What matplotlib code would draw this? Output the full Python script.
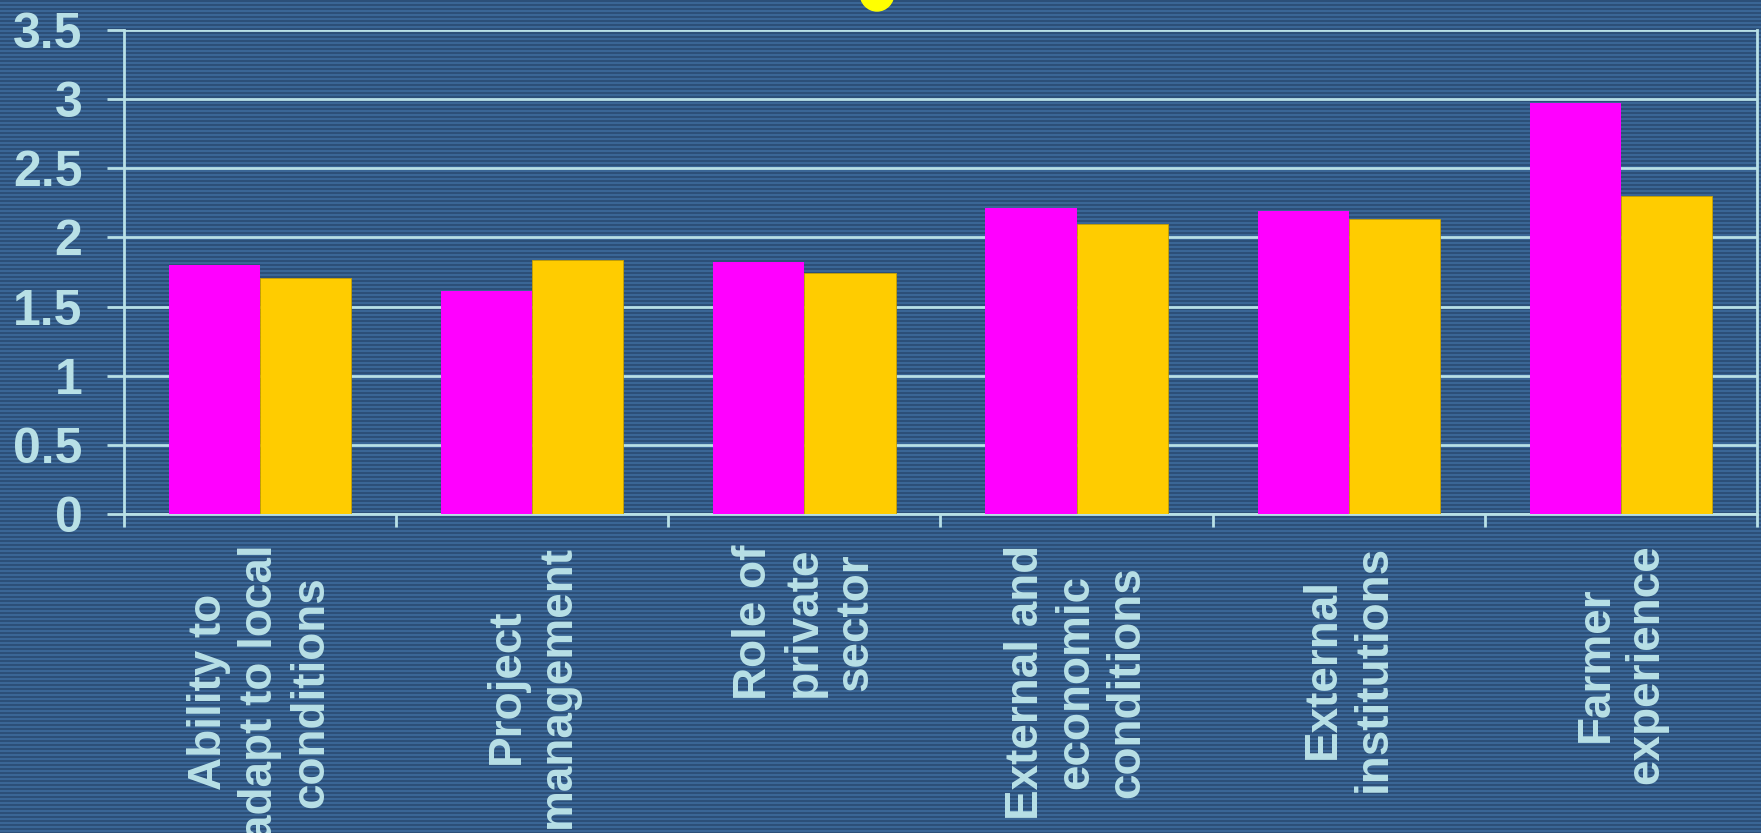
import numpy as np
import matplotlib.pyplot as plt
from matplotlib.patches import Ellipse

categories = [
    "Ability to\nadapt to local\nconditions",
    "Project\nmanagement",
    "Role of\nprivate\nsector",
    "External and\neconomic\nconditions",
    "External\ninstitutions",
    "Farmer\nexperience",
]
series_a = [1.80, 1.61, 1.82, 2.21, 2.19, 2.97]  # magenta
series_b = [1.71, 1.84, 1.74, 2.10, 2.13, 2.30]  # gold
y_ticks = [0, 0.5, 1, 1.5, 2, 2.5, 3, 3.5]
y_labels = ["0", "0.5", "1", "1.5", "2", "2.5", "3", "3.5"]

W, H = 1761, 833
fg = "#b8e0e6"
plt.rcParams['font.family'] = ['Liberation Sans', 'DejaVu Sans']
plt.rcParams['font.weight'] = 'bold'

fig = plt.figure(figsize=(W / 100, H / 100), dpi=100)

# striped slide background
rows = np.arange(H) % 4 < 2
bg = np.zeros((H, 1, 3))
bg[rows] = np.array([0x2c, 0x4f, 0x78]) / 255
bg[~rows] = np.array([0x3a, 0x66, 0x96]) / 255
bg_ax = fig.add_axes([0, 0, 1, 1])
bg_ax.imshow(bg, aspect='auto', interpolation='nearest', extent=[0, 1, 0, 1])
bg_ax.axis('off')
# bit of a yellow title glyph cut off at the top
bg_ax.add_patch(Ellipse((877 / W, 1 + 7 / H), 34 / W, 36 / H, color="#ffff00"))
bg_ax.set_xlim(0, 1)
bg_ax.set_ylim(0, 1)

ax = fig.add_axes([124 / W, 1 - 514 / H, (1757 - 124) / W, (514 - 30) / H])
ax.patch.set_alpha(0)

x = np.arange(len(categories))
w = 0.335
ax.bar(x - w / 2, series_a, w, color="#ff00ff", zorder=3)
ax.bar(x + w / 2, series_b, w, color="#ffcc00", edgecolor="#c8a000", linewidth=0.6, zorder=3)

ax.set_xlim(-0.5, len(categories) - 0.5)
ax.set_ylim(0, 3.5)
ax.set_yticks(y_ticks)
ax.set_yticklabels(y_labels)
ax.grid(axis='y', color=fg, linewidth=2, zorder=1)

ax.set_xticks(np.arange(len(categories) + 1) - 0.5)
ax.set_xticklabels([])
ax.set_xticks(x, minor=True)
ax.set_xticklabels(categories, minor=True, rotation=90, ha='center', va='top',
                   multialignment='center')

ax.tick_params(axis='y', length=12, width=2, color=fg, labelcolor=fg,
               labelsize=36, pad=18)
ax.tick_params(axis='x', which='major', length=9.5, width=2, color=fg)
ax.tick_params(axis='x', which='minor', length=0, labelcolor=fg,
               labelsize=33, pad=22)

for side in ['left', 'bottom', 'right']:
    ax.spines[side].set_color(fg)
    ax.spines[side].set_linewidth(2)
ax.spines['top'].set_visible(False)

fig.savefig("out.png", dpi=100)
